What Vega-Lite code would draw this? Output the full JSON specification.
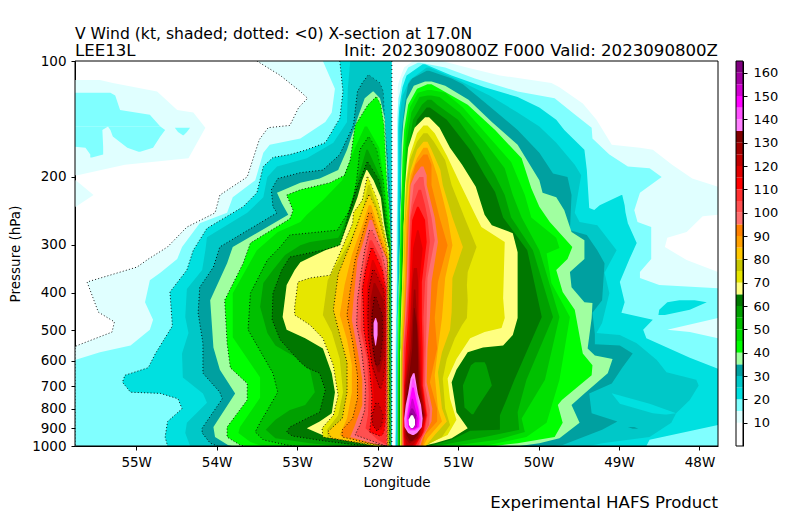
{"$schema":"https://vega.github.io/schema/vega-lite/v6.json","background":"white","padding":{"left":8,"top":27,"right":5,"bottom":5},"spacing":16,"config":{"font":"DejaVu Sans","view":{"stroke":null},"axisQuantitative":{"labelOverlap":false},"axis":{"grid":false,"labelFontSize":13.5,"titleFontSize":13.5,"titleFontWeight":"normal","labelColor":"black","titleColor":"black","tickColor":"black","domainColor":"black","tickSize":4,"labelOverlap":false}},
"datasets":{
"bar":[{"a":0,"b":10,"v":0},{"a":10,"b":15,"v":10},{"a":15,"b":20,"v":15},{"a":20,"b":25,"v":20},{"a":25,"b":30,"v":25},{"a":30,"b":35,"v":30},{"a":35,"b":40,"v":35},{"a":40,"b":45,"v":40},{"a":45,"b":50,"v":45},{"a":50,"b":55,"v":50},{"a":55,"b":60,"v":55},{"a":60,"b":65,"v":60},{"a":65,"b":70,"v":65},{"a":70,"b":75,"v":70},{"a":75,"b":80,"v":75},{"a":80,"b":85,"v":80},{"a":85,"b":90,"v":85},{"a":90,"b":95,"v":90},{"a":95,"b":100,"v":95},{"a":100,"b":105,"v":100},{"a":105,"b":110,"v":105},{"a":110,"b":115,"v":110},{"a":115,"b":120,"v":115},{"a":120,"b":125,"v":120},{"a":125,"b":130,"v":125},{"a":130,"b":135,"v":130},{"a":135,"b":140,"v":135},{"a":140,"b":145,"v":140},{"a":145,"b":150,"v":145},{"a":150,"b":155,"v":150},{"a":155,"b":160,"v":155},{"a":160,"b":165,"v":160}],
"bands":[
{"k":"L10","v":10,"p":100,"a":-53.5,"b":-51.82},{"k":"L10","v":10,"p":109,"a":-53.21,"b":-51.82},{"k":"L10","v":10,"p":120,"a":-52.96,"b":-51.82},{"k":"L10","v":10,"p":125,"a":-52.87,"b":-51.82},{"k":"L10","v":10,"p":132,"a":-52.98,"b":-51.82},{"k":"L10","v":10,"p":147,"a":-53.09,"b":-51.82},{"k":"L10","v":10,"p":149,"a":-53.36,"b":-51.82},{"k":"L10","v":10,"p":160,"a":-53.47,"b":-51.82},{"k":"L10","v":10,"p":200,"a":-53.62,"b":-51.82},{"k":"L10","v":10,"p":223,"a":-53.96,"b":-51.82},{"k":"L10","v":10,"p":248,"a":-54.02,"b":-51.82},{"k":"L10","v":10,"p":270,"a":-54.37,"b":-51.82},{"k":"L10","v":10,"p":304,"a":-54.61,"b":-51.82},{"k":"L10","v":10,"p":327,"a":-54.85,"b":-51.82},{"k":"L10","v":10,"p":343,"a":-54.99,"b":-51.82},{"k":"L10","v":10,"p":375,"a":-55.61,"b":-51.82},{"k":"L10","v":10,"p":449,"a":-55.47,"b":-51.82},{"k":"L10","v":10,"p":476,"a":-55.27,"b":-51.82},{"k":"L10","v":10,"p":506,"a":-55.3,"b":-51.82},{"k":"L10","v":10,"p":548,"a":-55.73,"b":-51.82},{"k":"L10","v":10,"p":552,"a":-55.76,"b":-51.82},{"k":"L10","v":10,"p":1000,"a":-55.76,"b":-51.82},
{"k":"P10a","v":10,"p":112,"a":-55.76,"b":-55.45},{"k":"P10a","v":10,"p":114,"a":-55.76,"b":-55.29},{"k":"P10a","v":10,"p":120,"a":-55.76,"b":-54.74},{"k":"P10a","v":10,"p":134,"a":-55.76,"b":-54.49},{"k":"P10a","v":10,"p":136,"a":-55.76,"b":-54.29},{"k":"P10a","v":10,"p":149,"a":-55.76,"b":-54.14},{"k":"P10a","v":10,"p":179,"a":-55.76,"b":-54.35},{"k":"P10a","v":10,"p":186,"a":-55.76,"b":-55.14},{"k":"P10a","v":10,"p":198,"a":-55.76,"b":-55.73},
{"k":"P10b","v":10,"p":204,"a":-55.76,"b":-55.75},{"k":"P10b","v":10,"p":223,"a":-55.76,"b":-55.53},{"k":"P10b","v":10,"p":239,"a":-55.76,"b":-55.75},
{"k":"R10","v":10,"p":100,"a":-51.56,"b":-51.2},{"k":"R10","v":10,"p":104,"a":-51.67,"b":-50.89},{"k":"R10","v":10,"p":109,"a":-51.71,"b":-50.48},{"k":"R10","v":10,"p":114,"a":-51.74,"b":-49.84},{"k":"R10","v":10,"p":117,"a":-51.75,"b":-49.74},{"k":"R10","v":10,"p":129,"a":-51.75,"b":-49.45},{"k":"R10","v":10,"p":142,"a":-51.76,"b":-49.28},{"k":"R10","v":10,"p":165,"a":-51.76,"b":-49.09},{"k":"R10","v":10,"p":168,"a":-51.76,"b":-48.74},{"k":"R10","v":10,"p":170,"a":-51.76,"b":-48.58},{"k":"R10","v":10,"p":186,"a":-51.76,"b":-48.34},{"k":"R10","v":10,"p":202,"a":-51.76,"b":-48.09},{"k":"R10","v":10,"p":212,"a":-51.76,"b":-47.77},{"k":"R10","v":10,"p":251,"a":-51.765,"b":-47.77},{"k":"R10","v":10,"p":253,"a":-51.765,"b":-47.96},{"k":"R10","v":10,"p":278,"a":-51.77,"b":-48.16},{"k":"R10","v":10,"p":288,"a":-51.77,"b":-48.4},{"k":"R10","v":10,"p":304,"a":-51.77,"b":-48.43},{"k":"R10","v":10,"p":329,"a":-51.77,"b":-48.16},{"k":"R10","v":10,"p":353,"a":-51.78,"b":-47.77},{"k":"R10","v":10,"p":558,"a":-51.79,"b":-47.77},{"k":"R10","v":10,"p":1000,"a":-51.79,"b":-47.77},
{"k":"L15","v":15,"p":100,"a":-52.68,"b":-51.822},{"k":"L15","v":15,"p":118,"a":-52.53,"b":-51.822},{"k":"L15","v":15,"p":136,"a":-52.57,"b":-51.822},{"k":"L15","v":15,"p":144,"a":-52.65,"b":-51.822},{"k":"L15","v":15,"p":159,"a":-52.96,"b":-51.822},{"k":"L15","v":15,"p":165,"a":-53.34,"b":-51.822},{"k":"L15","v":15,"p":173,"a":-53.42,"b":-51.822},{"k":"L15","v":15,"p":204,"a":-53.52,"b":-51.822},{"k":"L15","v":15,"p":226,"a":-53.8,"b":-51.822},{"k":"L15","v":15,"p":248,"a":-53.87,"b":-51.822},{"k":"L15","v":15,"p":264,"a":-54.21,"b":-51.822},{"k":"L15","v":15,"p":304,"a":-54.43,"b":-51.822},{"k":"L15","v":15,"p":327,"a":-54.49,"b":-51.822},{"k":"L15","v":15,"p":355,"a":-54.7,"b":-51.822},{"k":"L15","v":15,"p":371,"a":-54.83,"b":-51.822},{"k":"L15","v":15,"p":423,"a":-54.89,"b":-51.822},{"k":"L15","v":15,"p":470,"a":-54.79,"b":-51.822},{"k":"L15","v":15,"p":499,"a":-54.83,"b":-51.822},{"k":"L15","v":15,"p":548,"a":-55.07,"b":-51.822},{"k":"L15","v":15,"p":571,"a":-55.45,"b":-51.822},{"k":"L15","v":15,"p":598,"a":-55.76,"b":-51.822},{"k":"L15","v":15,"p":1000,"a":-55.76,"b":-51.822},
{"k":"P15a","v":15,"p":121,"a":-55.76,"b":-55.32},{"k":"P15a","v":15,"p":123,"a":-55.76,"b":-55.26},{"k":"P15a","v":15,"p":134,"a":-55.76,"b":-55.2},{"k":"P15a","v":15,"p":138,"a":-55.76,"b":-54.83},{"k":"P15a","v":15,"p":148,"a":-55.76,"b":-54.7},
{"k":"P15b","v":15,"p":148,"a":-55.76,"b":-55.35},{"k":"P15b","v":15,"p":151,"a":-55.76,"b":-55.42},{"k":"P15b","v":15,"p":167,"a":-55.76,"b":-55.41},{"k":"P15b","v":15,"p":168,"a":-55.63,"b":-55.41},{"k":"P15b","v":15,"p":175,"a":-55.57,"b":-55.41},{"k":"P15b","v":15,"p":178,"a":-55.57,"b":-55.55},
{"k":"P15c","v":15,"p":148,"a":-55.35,"b":-54.7},{"k":"P15c","v":15,"p":151,"a":-55.32,"b":-54.64},{"k":"P15c","v":15,"p":157,"a":-55.29,"b":-54.7},{"k":"P15c","v":15,"p":168,"a":-55.11,"b":-54.79},{"k":"P15c","v":15,"p":172,"a":-54.97,"b":-54.95},
{"k":"P15d","v":15,"p":149,"a":-54.52,"b":-54.33},{"k":"P15d","v":15,"p":153,"a":-54.48,"b":-54.37},{"k":"P15d","v":15,"p":156,"a":-54.42,"b":-54.41},
{"k":"R15","v":15,"p":101,"a":-51.5,"b":-51.47},{"k":"R15","v":15,"p":104,"a":-51.62,"b":-51.16},{"k":"R15","v":15,"p":111,"a":-51.69,"b":-50.79},{"k":"R15","v":15,"p":120,"a":-51.72,"b":-50.26},{"k":"R15","v":15,"p":125,"a":-51.74,"b":-49.8},{"k":"R15","v":15,"p":136,"a":-51.75,"b":-49.58},{"k":"R15","v":15,"p":149,"a":-51.755,"b":-49.34},{"k":"R15","v":15,"p":159,"a":-51.755,"b":-49.33},{"k":"R15","v":15,"p":175,"a":-51.755,"b":-49.12},{"k":"R15","v":15,"p":188,"a":-51.755,"b":-48.89},{"k":"R15","v":15,"p":190,"a":-51.755,"b":-48.62},{"k":"R15","v":15,"p":200,"a":-51.755,"b":-48.47},{"k":"R15","v":15,"p":220,"a":-51.755,"b":-48.74},{"k":"R15","v":15,"p":244,"a":-51.755,"b":-48.81},{"k":"R15","v":15,"p":262,"a":-51.76,"b":-48.77},{"k":"R15","v":15,"p":270,"a":-51.76,"b":-48.6},{"k":"R15","v":15,"p":327,"a":-51.76,"b":-48.6},{"k":"R15","v":15,"p":353,"a":-51.76,"b":-48.74},{"k":"R15","v":15,"p":366,"a":-51.76,"b":-48.74},{"k":"R15","v":15,"p":382,"a":-51.765,"b":-48.5},{"k":"R15","v":15,"p":389,"a":-51.765,"b":-47.77},{"k":"R15","v":15,"p":465,"a":-51.77,"b":-47.77},{"k":"R15","v":15,"p":499,"a":-51.77,"b":-48.4},{"k":"R15","v":15,"p":506,"a":-51.77,"b":-48.12},{"k":"R15","v":15,"p":525,"a":-51.775,"b":-47.77},{"k":"R15","v":15,"p":1000,"a":-51.78,"b":-47.77},
{"k":"L20","v":20,"p":100,"a":-52.47,"b":-51.826},{"k":"L20","v":20,"p":120,"a":-52.43,"b":-51.826},{"k":"L20","v":20,"p":141,"a":-52.47,"b":-51.826},{"k":"L20","v":20,"p":163,"a":-52.65,"b":-51.826},{"k":"L20","v":20,"p":170,"a":-52.88,"b":-51.826},{"k":"L20","v":20,"p":175,"a":-53.09,"b":-51.826},{"k":"L20","v":20,"p":178,"a":-53.3,"b":-51.826},{"k":"L20","v":20,"p":188,"a":-53.42,"b":-51.826},{"k":"L20","v":20,"p":220,"a":-53.5,"b":-51.826},{"k":"L20","v":20,"p":239,"a":-53.67,"b":-51.826},{"k":"L20","v":20,"p":272,"a":-54.12,"b":-51.826},{"k":"L20","v":20,"p":310,"a":-54.29,"b":-51.826},{"k":"L20","v":20,"p":349,"a":-54.37,"b":-51.826},{"k":"L20","v":20,"p":398,"a":-54.58,"b":-51.826},{"k":"L20","v":20,"p":488,"a":-54.55,"b":-51.826},{"k":"L20","v":20,"p":575,"a":-54.76,"b":-51.826},{"k":"L20","v":20,"p":626,"a":-54.85,"b":-51.826},{"k":"L20","v":20,"p":655,"a":-55.14,"b":-51.826},{"k":"L20","v":20,"p":683,"a":-55.17,"b":-51.826},{"k":"L20","v":20,"p":725,"a":-55.07,"b":-51.826},{"k":"L20","v":20,"p":730,"a":-54.7,"b":-51.826},{"k":"L20","v":20,"p":754,"a":-54.48,"b":-51.826},{"k":"L20","v":20,"p":800,"a":-54.43,"b":-51.826},{"k":"L20","v":20,"p":864,"a":-54.61,"b":-51.826},{"k":"L20","v":20,"p":948,"a":-54.64,"b":-51.826},{"k":"L20","v":20,"p":1000,"a":-54.61,"b":-51.826},
{"k":"R20","v":20,"p":102,"a":-51.44,"b":-51.41},{"k":"R20","v":20,"p":109,"a":-51.64,"b":-51.08},{"k":"R20","v":20,"p":117,"a":-51.69,"b":-50.67},{"k":"R20","v":20,"p":124,"a":-51.71,"b":-50.26},{"k":"R20","v":20,"p":132,"a":-51.73,"b":-49.99},{"k":"R20","v":20,"p":142,"a":-51.74,"b":-49.78},{"k":"R20","v":20,"p":151,"a":-51.745,"b":-49.68},{"k":"R20","v":20,"p":170,"a":-51.745,"b":-49.43},{"k":"R20","v":20,"p":192,"a":-51.745,"b":-49.4},{"k":"R20","v":20,"p":241,"a":-51.75,"b":-49.37},{"k":"R20","v":20,"p":264,"a":-51.75,"b":-48.89},{"k":"R20","v":20,"p":297,"a":-51.75,"b":-48.78},{"k":"R20","v":20,"p":327,"a":-51.755,"b":-48.87},{"k":"R20","v":20,"p":375,"a":-51.755,"b":-48.99},{"k":"R20","v":20,"p":423,"a":-51.76,"b":-48.93},{"k":"R20","v":20,"p":451,"a":-51.76,"b":-48.97},{"k":"R20","v":20,"p":470,"a":-51.765,"b":-48.58},{"k":"R20","v":20,"p":499,"a":-51.765,"b":-48.7},{"k":"R20","v":20,"p":525,"a":-51.765,"b":-48.66},{"k":"R20","v":20,"p":590,"a":-51.77,"b":-48.12},{"k":"R20","v":20,"p":630,"a":-51.77,"b":-47.77},{"k":"R20","v":20,"p":882,"a":-51.77,"b":-47.77},{"k":"R20","v":20,"p":964,"a":-51.775,"b":-48.62},{"k":"R20","v":20,"p":1000,"a":-51.775,"b":-48.66},
{"k":"R20b","v":20,"p":223,"a":-48.97,"b":-48.96},{"k":"R20b","v":20,"p":237,"a":-49.24,"b":-48.93},{"k":"R20b","v":20,"p":247,"a":-49.34,"b":-48.92},{"k":"R20b","v":20,"p":264,"a":-49.37,"b":-48.89},
{"k":"R20c","v":20,"p":418,"a":-48.25,"b":-48.06},{"k":"R20c","v":20,"p":423,"a":-48.4,"b":-47.91},{"k":"R20c","v":20,"p":443,"a":-48.5,"b":-48.12},{"k":"R20c","v":20,"p":457,"a":-48.51,"b":-48.43},
{"k":"L25","v":25,"p":100,"a":-52.34,"b":-51.83},{"k":"L25","v":25,"p":118,"a":-52.37,"b":-51.83},{"k":"L25","v":25,"p":144,"a":-52.38,"b":-51.83},{"k":"L25","v":25,"p":163,"a":-52.55,"b":-51.83},{"k":"L25","v":25,"p":179,"a":-52.88,"b":-51.83},{"k":"L25","v":25,"p":184,"a":-53.09,"b":-51.83},{"k":"L25","v":25,"p":188,"a":-53.25,"b":-51.83},{"k":"L25","v":25,"p":200,"a":-53.37,"b":-51.83},{"k":"L25","v":25,"p":226,"a":-53.42,"b":-51.83},{"k":"L25","v":25,"p":248,"a":-53.62,"b":-51.83},{"k":"L25","v":25,"p":287,"a":-54.12,"b":-51.83},{"k":"L25","v":25,"p":310,"a":-54.14,"b":-51.83},{"k":"L25","v":25,"p":349,"a":-54.18,"b":-51.83},{"k":"L25","v":25,"p":391,"a":-54.37,"b":-51.83},{"k":"L25","v":25,"p":462,"a":-54.39,"b":-51.83},{"k":"L25","v":25,"p":509,"a":-54.35,"b":-51.83},{"k":"L25","v":25,"p":575,"a":-54.43,"b":-51.83},{"k":"L25","v":25,"p":664,"a":-54.42,"b":-51.83},{"k":"L25","v":25,"p":730,"a":-54.17,"b":-51.83},{"k":"L25","v":25,"p":772,"a":-54.12,"b":-51.83},{"k":"L25","v":25,"p":870,"a":-54.37,"b":-51.83},{"k":"L25","v":25,"p":925,"a":-54.39,"b":-51.83},{"k":"L25","v":25,"p":1000,"a":-54.33,"b":-51.83},
{"k":"R25","v":25,"p":104,"a":-51.39,"b":-51.36},{"k":"R25","v":25,"p":112,"a":-51.6,"b":-51.0},{"k":"R25","v":25,"p":123,"a":-51.69,"b":-50.61},{"k":"R25","v":25,"p":136,"a":-51.72,"b":-50.26},{"k":"R25","v":25,"p":148,"a":-51.73,"b":-49.99},{"k":"R25","v":25,"p":163,"a":-51.73,"b":-49.78},{"k":"R25","v":25,"p":186,"a":-51.73,"b":-49.55},{"k":"R25","v":25,"p":198,"a":-51.73,"b":-49.47},{"k":"R25","v":25,"p":248,"a":-51.74,"b":-49.55},{"k":"R25","v":25,"p":262,"a":-51.74,"b":-49.49},{"k":"R25","v":25,"p":267,"a":-51.74,"b":-49.27},{"k":"R25","v":25,"p":310,"a":-51.745,"b":-49.03},{"k":"R25","v":25,"p":355,"a":-51.745,"b":-49.18},{"k":"R25","v":25,"p":401,"a":-51.75,"b":-49.12},{"k":"R25","v":25,"p":479,"a":-51.75,"b":-49.21},{"k":"R25","v":25,"p":509,"a":-51.755,"b":-49.28},{"k":"R25","v":25,"p":515,"a":-51.755,"b":-48.99},{"k":"R25","v":25,"p":541,"a":-51.755,"b":-48.78},{"k":"R25","v":25,"p":598,"a":-51.76,"b":-48.53},{"k":"R25","v":25,"p":643,"a":-51.76,"b":-48.41},{"k":"R25","v":25,"p":673,"a":-51.76,"b":-48.04},{"k":"R25","v":25,"p":696,"a":-51.76,"b":-48.01},{"k":"R25","v":25,"p":759,"a":-51.76,"b":-48.12},{"k":"R25","v":25,"p":822,"a":-51.76,"b":-48.29},{"k":"R25","v":25,"p":870,"a":-51.76,"b":-48.35},{"k":"R25","v":25,"p":948,"a":-51.76,"b":-48.62},{"k":"R25","v":25,"p":983,"a":-51.76,"b":-49.21},{"k":"R25","v":25,"p":1000,"a":-51.76,"b":-49.37},
{"k":"H20","v":20,"p":730,"a":-49.09,"b":-49.08},{"k":"H20","v":20,"p":777,"a":-48.99,"b":-48.62},{"k":"H20","v":20,"p":822,"a":-48.58,"b":-48.29},{"k":"H20","v":20,"p":828,"a":-48.43,"b":-48.41},
{"k":"L30","v":30,"p":109,"a":-52.12,"b":-52.1},{"k":"L30","v":30,"p":114,"a":-52.19,"b":-51.97},{"k":"L30","v":30,"p":120,"a":-52.25,"b":-51.93},{"k":"L30","v":30,"p":147,"a":-52.3,"b":-51.91},{"k":"L30","v":30,"p":175,"a":-52.47,"b":-51.88},{"k":"L30","v":30,"p":192,"a":-52.68,"b":-51.87},{"k":"L30","v":30,"p":195,"a":-52.96,"b":-51.87},{"k":"L30","v":30,"p":202,"a":-53.24,"b":-51.86},{"k":"L30","v":30,"p":216,"a":-53.32,"b":-51.85},{"k":"L30","v":30,"p":239,"a":-53.3,"b":-51.84},{"k":"L30","v":30,"p":248,"a":-53.25,"b":-51.832},{"k":"L30","v":30,"p":304,"a":-53.96,"b":-51.832},{"k":"L30","v":30,"p":343,"a":-54.04,"b":-51.832},{"k":"L30","v":30,"p":387,"a":-54.21,"b":-51.832},{"k":"L30","v":30,"p":451,"a":-54.23,"b":-51.832},{"k":"L30","v":30,"p":541,"a":-54.17,"b":-51.832},{"k":"L30","v":30,"p":647,"a":-54.17,"b":-51.832},{"k":"L30","v":30,"p":725,"a":-53.96,"b":-51.832},{"k":"L30","v":30,"p":754,"a":-53.93,"b":-51.832},{"k":"L30","v":30,"p":899,"a":-54.18,"b":-51.832},{"k":"L30","v":30,"p":925,"a":-54.18,"b":-51.832},{"k":"L30","v":30,"p":983,"a":-54.08,"b":-51.832},{"k":"L30","v":30,"p":1000,"a":-53.99,"b":-51.832},
{"k":"R30","v":30,"p":106,"a":-51.39,"b":-51.36},{"k":"R30","v":30,"p":111,"a":-51.57,"b":-51.08},{"k":"R30","v":30,"p":115,"a":-51.62,"b":-50.94},{"k":"R30","v":30,"p":128,"a":-51.66,"b":-50.67},{"k":"R30","v":30,"p":151,"a":-51.7,"b":-50.26},{"k":"R30","v":30,"p":173,"a":-51.71,"b":-49.99},{"k":"R30","v":30,"p":196,"a":-51.71,"b":-49.82},{"k":"R30","v":30,"p":200,"a":-51.71,"b":-49.64},{"k":"R30","v":30,"p":223,"a":-51.72,"b":-49.59},{"k":"R30","v":30,"p":275,"a":-51.73,"b":-49.61},{"k":"R30","v":30,"p":283,"a":-51.73,"b":-49.4},{"k":"R30","v":30,"p":310,"a":-51.73,"b":-49.27},{"k":"R30","v":30,"p":335,"a":-51.735,"b":-49.18},{"k":"R30","v":30,"p":418,"a":-51.74,"b":-49.21},{"k":"R30","v":30,"p":451,"a":-51.74,"b":-49.33},{"k":"R30","v":30,"p":512,"a":-51.75,"b":-49.3},{"k":"R30","v":30,"p":544,"a":-51.75,"b":-49.3},{"k":"R30","v":30,"p":548,"a":-51.75,"b":-48.99},{"k":"R30","v":30,"p":575,"a":-51.75,"b":-48.83},{"k":"R30","v":30,"p":626,"a":-51.755,"b":-48.96},{"k":"R30","v":30,"p":688,"a":-51.755,"b":-49.09},{"k":"R30","v":30,"p":730,"a":-51.755,"b":-49.37},{"k":"R30","v":30,"p":822,"a":-51.755,"b":-49.34},{"k":"R30","v":30,"p":864,"a":-51.76,"b":-49.02},{"k":"R30","v":30,"p":908,"a":-51.76,"b":-49.21},{"k":"R30","v":30,"p":994,"a":-51.76,"b":-49.7},{"k":"R30","v":30,"p":1000,"a":-51.76,"b":-49.8},
{"k":"R30c","v":30,"p":893,"a":-48.89,"b":-48.81},{"k":"R30c","v":30,"p":902,"a":-48.83,"b":-48.76},
{"k":"L35","v":35,"p":120,"a":-52.06,"b":-52.05},{"k":"L35","v":35,"p":125,"a":-52.16,"b":-51.97},{"k":"L35","v":35,"p":141,"a":-52.25,"b":-51.91},{"k":"L35","v":35,"p":170,"a":-52.38,"b":-51.895},{"k":"L35","v":35,"p":192,"a":-52.49,"b":-51.88},{"k":"L35","v":35,"p":202,"a":-52.72,"b":-51.88},{"k":"L35","v":35,"p":207,"a":-52.96,"b":-51.875},{"k":"L35","v":35,"p":220,"a":-53.25,"b":-51.87},{"k":"L35","v":35,"p":234,"a":-53.19,"b":-51.86},{"k":"L35","v":35,"p":251,"a":-53.11,"b":-51.85},{"k":"L35","v":35,"p":304,"a":-53.8,"b":-51.836},{"k":"L35","v":35,"p":335,"a":-53.87,"b":-51.836},{"k":"L35","v":35,"p":418,"a":-54.08,"b":-51.836},{"k":"L35","v":35,"p":555,"a":-54.04,"b":-51.836},{"k":"L35","v":35,"p":634,"a":-53.96,"b":-51.836},{"k":"L35","v":35,"p":730,"a":-53.77,"b":-51.836},{"k":"L35","v":35,"p":893,"a":-54.04,"b":-51.836},{"k":"L35","v":35,"p":948,"a":-54.02,"b":-51.836},{"k":"L35","v":35,"p":994,"a":-53.86,"b":-51.836},{"k":"L35","v":35,"p":1000,"a":-53.81,"b":-51.836},
{"k":"R35","v":35,"p":113,"a":-51.41,"b":-51.33},{"k":"R35","v":35,"p":116,"a":-51.55,"b":-51.16},{"k":"R35","v":35,"p":126,"a":-51.64,"b":-50.87},{"k":"R35","v":35,"p":144,"a":-51.68,"b":-50.58},{"k":"R35","v":35,"p":165,"a":-51.7,"b":-50.26},{"k":"R35","v":35,"p":204,"a":-51.71,"b":-49.99},{"k":"R35","v":35,"p":220,"a":-51.71,"b":-49.95},{"k":"R35","v":35,"p":226,"a":-51.71,"b":-49.78},{"k":"R35","v":35,"p":244,"a":-51.72,"b":-49.68},{"k":"R35","v":35,"p":278,"a":-51.72,"b":-49.59},{"k":"R35","v":35,"p":292,"a":-51.72,"b":-49.43},{"k":"R35","v":35,"p":327,"a":-51.73,"b":-49.43},{"k":"R35","v":35,"p":353,"a":-51.73,"b":-49.61},{"k":"R35","v":35,"p":387,"a":-51.74,"b":-49.59},{"k":"R35","v":35,"p":423,"a":-51.74,"b":-49.43},{"k":"R35","v":35,"p":425,"a":-51.74,"b":-49.33},{"k":"R35","v":35,"p":465,"a":-51.75,"b":-49.34},{"k":"R35","v":35,"p":558,"a":-51.75,"b":-49.39},{"k":"R35","v":35,"p":582,"a":-51.75,"b":-49.3},{"k":"R35","v":35,"p":594,"a":-51.75,"b":-49.08},{"k":"R35","v":35,"p":647,"a":-51.75,"b":-49.14},{"k":"R35","v":35,"p":730,"a":-51.75,"b":-49.43},{"k":"R35","v":35,"p":783,"a":-51.75,"b":-49.59},{"k":"R35","v":35,"p":870,"a":-51.75,"b":-49.49},{"k":"R35","v":35,"p":954,"a":-51.75,"b":-49.74},{"k":"R35","v":35,"p":983,"a":-51.75,"b":-49.99},{"k":"R35","v":35,"p":1000,"a":-51.75,"b":-50.24},
{"k":"L40","v":40,"p":124,"a":-52.02,"b":-52.01},{"k":"L40","v":40,"p":130,"a":-52.12,"b":-51.96},{"k":"L40","v":40,"p":147,"a":-52.28,"b":-51.92},{"k":"L40","v":40,"p":181,"a":-52.34,"b":-51.9},{"k":"L40","v":40,"p":198,"a":-52.41,"b":-51.89},{"k":"L40","v":40,"p":207,"a":-52.59,"b":-51.885},{"k":"L40","v":40,"p":216,"a":-52.96,"b":-51.88},{"k":"L40","v":40,"p":223,"a":-53.13,"b":-51.87},{"k":"L40","v":40,"p":244,"a":-53.05,"b":-51.855},{"k":"L40","v":40,"p":257,"a":-53.09,"b":-51.85},{"k":"L40","v":40,"p":297,"a":-53.58,"b":-51.839},{"k":"L40","v":40,"p":335,"a":-53.67,"b":-51.839},{"k":"L40","v":40,"p":418,"a":-53.9,"b":-51.839},{"k":"L40","v":40,"p":541,"a":-53.87,"b":-51.839},{"k":"L40","v":40,"p":626,"a":-53.83,"b":-51.839},{"k":"L40","v":40,"p":688,"a":-53.62,"b":-51.839},{"k":"L40","v":40,"p":759,"a":-53.62,"b":-51.839},{"k":"L40","v":40,"p":893,"a":-53.87,"b":-51.839},{"k":"L40","v":40,"p":948,"a":-53.87,"b":-51.839},{"k":"L40","v":40,"p":994,"a":-53.71,"b":-51.839},{"k":"L40","v":40,"p":1000,"a":-53.65,"b":-51.839},
{"k":"R40","v":40,"p":115,"a":-51.38,"b":-51.33},{"k":"R40","v":40,"p":118,"a":-51.51,"b":-51.23},{"k":"R40","v":40,"p":130,"a":-51.62,"b":-50.88},{"k":"R40","v":40,"p":151,"a":-51.67,"b":-50.54},{"k":"R40","v":40,"p":179,"a":-51.69,"b":-50.21},{"k":"R40","v":40,"p":214,"a":-51.7,"b":-50.09},{"k":"R40","v":40,"p":239,"a":-51.71,"b":-49.99},{"k":"R40","v":40,"p":262,"a":-51.715,"b":-49.86},{"k":"R40","v":40,"p":304,"a":-51.72,"b":-49.58},{"k":"R40","v":40,"p":327,"a":-51.725,"b":-49.64},{"k":"R40","v":40,"p":349,"a":-51.725,"b":-49.78},{"k":"R40","v":40,"p":398,"a":-51.73,"b":-49.7},{"k":"R40","v":40,"p":443,"a":-51.74,"b":-49.55},{"k":"R40","v":40,"p":575,"a":-51.745,"b":-49.45},{"k":"R40","v":40,"p":617,"a":-51.745,"b":-49.33},{"k":"R40","v":40,"p":655,"a":-51.745,"b":-49.34},{"k":"R40","v":40,"p":759,"a":-51.745,"b":-49.71},{"k":"R40","v":40,"p":783,"a":-51.745,"b":-49.76},{"k":"R40","v":40,"p":870,"a":-51.745,"b":-49.7},{"k":"R40","v":40,"p":948,"a":-51.745,"b":-49.8},{"k":"R40","v":40,"p":983,"a":-51.745,"b":-50.26},{"k":"R40","v":40,"p":1000,"a":-51.745,"b":-50.54},
{"k":"L45","v":45,"p":148,"a":-52.16,"b":-52.13},{"k":"L45","v":45,"p":168,"a":-52.28,"b":-51.98},{"k":"L45","v":45,"p":204,"a":-52.44,"b":-51.92},{"k":"L45","v":45,"p":230,"a":-52.68,"b":-51.89},{"k":"L45","v":45,"p":251,"a":-52.88,"b":-51.87},{"k":"L45","v":45,"p":262,"a":-52.96,"b":-51.86},{"k":"L45","v":45,"p":278,"a":-53.24,"b":-51.85},{"k":"L45","v":45,"p":310,"a":-53.5,"b":-51.842},{"k":"L45","v":45,"p":401,"a":-53.8,"b":-51.842},{"k":"L45","v":45,"p":522,"a":-53.8,"b":-51.842},{"k":"L45","v":45,"p":664,"a":-53.46,"b":-51.842},{"k":"L45","v":45,"p":749,"a":-53.46,"b":-51.842},{"k":"L45","v":45,"p":893,"a":-53.71,"b":-51.842},{"k":"L45","v":45,"p":925,"a":-53.73,"b":-51.842},{"k":"L45","v":45,"p":977,"a":-53.58,"b":-51.842},{"k":"L45","v":45,"p":1000,"a":-53.44,"b":-51.842},
{"k":"R45","v":45,"p":119,"a":-51.38,"b":-51.33},{"k":"R45","v":45,"p":121,"a":-51.5,"b":-51.16},{"k":"R45","v":45,"p":132,"a":-51.6,"b":-50.94},{"k":"R45","v":45,"p":153,"a":-51.65,"b":-50.67},{"k":"R45","v":45,"p":183,"a":-51.67,"b":-50.34},{"k":"R45","v":45,"p":223,"a":-51.69,"b":-50.17},{"k":"R45","v":45,"p":255,"a":-51.7,"b":-50.09},{"k":"R45","v":45,"p":288,"a":-51.705,"b":-49.78},{"k":"R45","v":45,"p":306,"a":-51.71,"b":-49.74},{"k":"R45","v":45,"p":316,"a":-51.71,"b":-49.9},{"k":"R45","v":45,"p":377,"a":-51.715,"b":-49.84},{"k":"R45","v":45,"p":462,"a":-51.72,"b":-49.61},{"k":"R45","v":45,"p":673,"a":-51.74,"b":-49.74},{"k":"R45","v":45,"p":870,"a":-51.74,"b":-49.9},{"k":"R45","v":45,"p":948,"a":-51.74,"b":-50.15},{"k":"R45","v":45,"p":1000,"a":-51.74,"b":-50.67},
{"k":"L50","v":50,"p":158,"a":-52.12,"b":-52.1},{"k":"L50","v":50,"p":170,"a":-52.22,"b":-52.01},{"k":"L50","v":50,"p":204,"a":-52.26,"b":-51.93},{"k":"L50","v":50,"p":239,"a":-52.32,"b":-51.9},{"k":"L50","v":50,"p":275,"a":-52.5,"b":-51.87},{"k":"L50","v":50,"p":278,"a":-52.72,"b":-51.865},{"k":"L50","v":50,"p":283,"a":-53.09,"b":-51.86},{"k":"L50","v":50,"p":304,"a":-53.21,"b":-51.845},{"k":"L50","v":50,"p":329,"a":-53.37,"b":-51.845},{"k":"L50","v":50,"p":401,"a":-53.58,"b":-51.845},{"k":"L50","v":50,"p":499,"a":-53.61,"b":-51.845},{"k":"L50","v":50,"p":647,"a":-53.3,"b":-51.845},{"k":"L50","v":50,"p":725,"a":-53.24,"b":-51.845},{"k":"L50","v":50,"p":870,"a":-53.46,"b":-51.845},{"k":"L50","v":50,"p":919,"a":-53.52,"b":-51.845},{"k":"L50","v":50,"p":964,"a":-53.42,"b":-51.845},{"k":"L50","v":50,"p":994,"a":-53.13,"b":-51.845},{"k":"L50","v":50,"p":1000,"a":-53.03,"b":-51.845},
{"k":"R50","v":50,"p":123,"a":-51.38,"b":-51.33},{"k":"R50","v":50,"p":124,"a":-51.48,"b":-51.23},{"k":"R50","v":50,"p":136,"a":-51.58,"b":-50.98},{"k":"R50","v":50,"p":162,"a":-51.64,"b":-50.67},{"k":"R50","v":50,"p":190,"a":-51.66,"b":-50.42},{"k":"R50","v":50,"p":223,"a":-51.67,"b":-50.32},{"k":"R50","v":50,"p":255,"a":-51.69,"b":-50.21},{"k":"R50","v":50,"p":310,"a":-51.7,"b":-49.99},{"k":"R50","v":50,"p":462,"a":-51.72,"b":-49.74},{"k":"R50","v":50,"p":673,"a":-51.735,"b":-49.92},{"k":"R50","v":50,"p":848,"a":-51.74,"b":-50.21},{"k":"R50","v":50,"p":919,"a":-51.74,"b":-50.17},{"k":"R50","v":50,"p":964,"a":-51.74,"b":-50.51},{"k":"R50","v":50,"p":1000,"a":-51.74,"b":-51.08},
{"k":"L55","v":55,"p":170,"a":-52.14,"b":-52.12},{"k":"L55","v":55,"p":204,"a":-52.25,"b":-51.95},{"k":"L55","v":55,"p":251,"a":-52.37,"b":-51.9},{"k":"L55","v":55,"p":283,"a":-52.47,"b":-51.87},{"k":"L55","v":55,"p":288,"a":-52.49,"b":-51.86},{"k":"L55","v":55,"p":295,"a":-52.84,"b":-51.855},{"k":"L55","v":55,"p":301,"a":-52.96,"b":-51.85},{"k":"L55","v":55,"p":319,"a":-53.15,"b":-51.849},{"k":"L55","v":55,"p":349,"a":-53.3,"b":-51.849},{"k":"L55","v":55,"p":377,"a":-53.42,"b":-51.849},{"k":"L55","v":55,"p":435,"a":-53.46,"b":-51.849},{"k":"L55","v":55,"p":509,"a":-53.37,"b":-51.849},{"k":"L55","v":55,"p":548,"a":-53.27,"b":-51.849},{"k":"L55","v":55,"p":598,"a":-52.96,"b":-51.849},{"k":"L55","v":55,"p":634,"a":-52.84,"b":-51.849},{"k":"L55","v":55,"p":725,"a":-52.78,"b":-51.849},{"k":"L55","v":55,"p":783,"a":-52.9,"b":-51.849},{"k":"L55","v":55,"p":806,"a":-53.09,"b":-51.849},{"k":"L55","v":55,"p":855,"a":-53.27,"b":-51.849},{"k":"L55","v":55,"p":908,"a":-53.39,"b":-51.849},{"k":"L55","v":55,"p":954,"a":-53.27,"b":-51.849},{"k":"L55","v":55,"p":983,"a":-52.84,"b":-51.849},{"k":"L55","v":55,"p":1000,"a":-52.47,"b":-51.849},
{"k":"R55","v":55,"p":126,"a":-51.38,"b":-51.33},{"k":"R55","v":55,"p":130,"a":-51.45,"b":-51.26},{"k":"R55","v":55,"p":142,"a":-51.56,"b":-51.0},{"k":"R55","v":55,"p":170,"a":-51.62,"b":-50.73},{"k":"R55","v":55,"p":198,"a":-51.65,"b":-50.54},{"k":"R55","v":55,"p":223,"a":-51.66,"b":-50.42},{"k":"R55","v":55,"p":255,"a":-51.67,"b":-50.34},{"k":"R55","v":55,"p":310,"a":-51.69,"b":-50.07},{"k":"R55","v":55,"p":462,"a":-51.71,"b":-49.82},{"k":"R55","v":55,"p":673,"a":-51.72,"b":-50.15},{"k":"R55","v":55,"p":817,"a":-51.73,"b":-50.26},{"k":"R55","v":55,"p":908,"a":-51.73,"b":-50.24},{"k":"R55","v":55,"p":948,"a":-51.73,"b":-50.67},{"k":"R55","v":55,"p":994,"a":-51.73,"b":-51.2},{"k":"R55","v":55,"p":1000,"a":-51.73,"b":-51.29},
{"k":"L60","v":60,"p":183,"a":-52.13,"b":-52.12},{"k":"L60","v":60,"p":204,"a":-52.22,"b":-51.98},{"k":"L60","v":60,"p":239,"a":-52.34,"b":-51.92},{"k":"L60","v":60,"p":275,"a":-52.41,"b":-51.89},{"k":"L60","v":60,"p":301,"a":-52.47,"b":-51.86},{"k":"L60","v":60,"p":310,"a":-52.68,"b":-51.851},{"k":"L60","v":60,"p":323,"a":-53.09,"b":-51.851},{"k":"L60","v":60,"p":349,"a":-53.19,"b":-51.851},{"k":"L60","v":60,"p":401,"a":-53.3,"b":-51.851},{"k":"L60","v":60,"p":470,"a":-53.31,"b":-51.851},{"k":"L60","v":60,"p":530,"a":-53.21,"b":-51.851},{"k":"L60","v":60,"p":606,"a":-52.96,"b":-51.851},{"k":"L60","v":60,"p":626,"a":-52.88,"b":-51.851},{"k":"L60","v":60,"p":647,"a":-52.72,"b":-51.851},{"k":"L60","v":60,"p":715,"a":-52.65,"b":-51.851},{"k":"L60","v":60,"p":817,"a":-52.72,"b":-51.851},{"k":"L60","v":60,"p":848,"a":-52.88,"b":-51.851},{"k":"L60","v":60,"p":893,"a":-53.09,"b":-51.851},{"k":"L60","v":60,"p":919,"a":-53.13,"b":-51.851},{"k":"L60","v":60,"p":942,"a":-53.06,"b":-51.851},{"k":"L60","v":60,"p":971,"a":-52.65,"b":-51.851},{"k":"L60","v":60,"p":989,"a":-52.34,"b":-51.851},{"k":"L60","v":60,"p":1000,"a":-52.1,"b":-51.851},
{"k":"R60","v":60,"p":132,"a":-51.39,"b":-51.35},{"k":"R60","v":60,"p":142,"a":-51.51,"b":-51.14},{"k":"R60","v":60,"p":170,"a":-51.6,"b":-50.85},{"k":"R60","v":60,"p":198,"a":-51.62,"b":-50.67},{"k":"R60","v":60,"p":219,"a":-51.64,"b":-50.54},{"k":"R60","v":60,"p":255,"a":-51.66,"b":-50.44},{"k":"R60","v":60,"p":310,"a":-51.67,"b":-50.14},{"k":"R60","v":60,"p":462,"a":-51.7,"b":-49.96},{"k":"R60","v":60,"p":673,"a":-51.72,"b":-50.3},{"k":"R60","v":60,"p":759,"a":-51.72,"b":-50.4},{"k":"R60","v":60,"p":832,"a":-51.72,"b":-50.48},{"k":"R60","v":60,"p":908,"a":-51.72,"b":-50.48},{"k":"R60","v":60,"p":913,"a":-51.72,"b":-50.85},{"k":"R60","v":60,"p":964,"a":-51.72,"b":-51.08},{"k":"R60","v":60,"p":1000,"a":-51.72,"b":-51.35},
{"k":"H55","v":55,"p":606,"a":-50.79,"b":-50.67},{"k":"H55","v":55,"p":617,"a":-50.84,"b":-50.65},{"k":"H55","v":55,"p":696,"a":-50.94,"b":-50.58},{"k":"H55","v":55,"p":794,"a":-50.92,"b":-50.76},{"k":"H55","v":55,"p":827,"a":-50.83,"b":-50.81},
{"k":"L65","v":65,"p":192,"a":-52.14,"b":-52.13},{"k":"L65","v":65,"p":204,"a":-52.19,"b":-52.05},{"k":"L65","v":65,"p":226,"a":-52.25,"b":-51.96},{"k":"L65","v":65,"p":264,"a":-52.37,"b":-51.92},{"k":"L65","v":65,"p":301,"a":-52.47,"b":-51.87},{"k":"L65","v":65,"p":310,"a":-52.65,"b":-51.855},{"k":"L65","v":65,"p":333,"a":-52.96,"b":-51.855},{"k":"L65","v":65,"p":349,"a":-53.03,"b":-51.855},{"k":"L65","v":65,"p":382,"a":-53.13,"b":-51.855},{"k":"L65","v":65,"p":462,"a":-53.18,"b":-51.855},{"k":"L65","v":65,"p":499,"a":-53.13,"b":-51.855},{"k":"L65","v":65,"p":525,"a":-52.9,"b":-51.855},{"k":"L65","v":65,"p":558,"a":-52.68,"b":-51.855},{"k":"L65","v":65,"p":647,"a":-52.57,"b":-51.855},{"k":"L65","v":65,"p":725,"a":-52.53,"b":-51.855},{"k":"L65","v":65,"p":822,"a":-52.57,"b":-51.855},{"k":"L65","v":65,"p":864,"a":-52.72,"b":-51.855},{"k":"L65","v":65,"p":899,"a":-52.88,"b":-51.855},{"k":"L65","v":65,"p":948,"a":-52.63,"b":-51.855},{"k":"L65","v":65,"p":964,"a":-52.47,"b":-51.855},{"k":"L65","v":65,"p":983,"a":-52.16,"b":-51.855},{"k":"L65","v":65,"p":1000,"a":-51.97,"b":-51.855},
{"k":"R65","v":65,"p":140,"a":-51.41,"b":-51.36},{"k":"R65","v":65,"p":149,"a":-51.54,"b":-51.23},{"k":"R65","v":65,"p":168,"a":-51.62,"b":-51.1},{"k":"R65","v":65,"p":186,"a":-51.64,"b":-50.95},{"k":"R65","v":65,"p":212,"a":-51.66,"b":-50.78},{"k":"R65","v":65,"p":251,"a":-51.67,"b":-50.67},{"k":"R65","v":65,"p":267,"a":-51.675,"b":-50.58},{"k":"R65","v":65,"p":280,"a":-51.675,"b":-50.32},{"k":"R65","v":65,"p":314,"a":-51.68,"b":-50.26},{"k":"R65","v":65,"p":465,"a":-51.71,"b":-50.26},{"k":"R65","v":65,"p":515,"a":-51.715,"b":-50.32},{"k":"R65","v":65,"p":548,"a":-51.715,"b":-50.44},{"k":"R65","v":65,"p":555,"a":-51.715,"b":-50.69},{"k":"R65","v":65,"p":571,"a":-51.72,"b":-50.88},{"k":"R65","v":65,"p":634,"a":-51.72,"b":-51.02},{"k":"R65","v":65,"p":683,"a":-51.72,"b":-51.08},{"k":"R65","v":65,"p":817,"a":-51.72,"b":-51.02},{"k":"R65","v":65,"p":899,"a":-51.72,"b":-50.88},{"k":"R65","v":65,"p":954,"a":-51.72,"b":-51.08},{"k":"R65","v":65,"p":983,"a":-51.72,"b":-51.29},{"k":"R65","v":65,"p":1000,"a":-51.72,"b":-51.45},
{"k":"L70","v":70,"p":200,"a":-52.13,"b":-52.12},{"k":"L70","v":70,"p":230,"a":-52.19,"b":-52.0},{"k":"L70","v":70,"p":248,"a":-52.3,"b":-51.96},{"k":"L70","v":70,"p":264,"a":-52.31,"b":-51.94},{"k":"L70","v":70,"p":316,"a":-52.47,"b":-51.858},{"k":"L70","v":70,"p":360,"a":-52.59,"b":-51.858},{"k":"L70","v":70,"p":366,"a":-52.84,"b":-51.858},{"k":"L70","v":70,"p":375,"a":-52.99,"b":-51.858},{"k":"L70","v":70,"p":435,"a":-53.03,"b":-51.858},{"k":"L70","v":70,"p":457,"a":-53.03,"b":-51.858},{"k":"L70","v":70,"p":485,"a":-52.84,"b":-51.858},{"k":"L70","v":70,"p":525,"a":-52.68,"b":-51.858},{"k":"L70","v":70,"p":617,"a":-52.55,"b":-51.858},{"k":"L70","v":70,"p":739,"a":-52.49,"b":-51.858},{"k":"L70","v":70,"p":832,"a":-52.55,"b":-51.858},{"k":"L70","v":70,"p":899,"a":-52.69,"b":-51.858},{"k":"L70","v":70,"p":948,"a":-52.68,"b":-51.858},{"k":"L70","v":70,"p":964,"a":-52.47,"b":-51.858},{"k":"L70","v":70,"p":994,"a":-52.1,"b":-51.858},{"k":"L70","v":70,"p":1000,"a":-52.03,"b":-51.858},
{"k":"R70","v":70,"p":147,"a":-51.43,"b":-51.38},{"k":"R70","v":70,"p":154,"a":-51.51,"b":-51.29},{"k":"R70","v":70,"p":176,"a":-51.6,"b":-51.14},{"k":"R70","v":70,"p":207,"a":-51.65,"b":-50.98},{"k":"R70","v":70,"p":255,"a":-51.67,"b":-50.77},{"k":"R70","v":70,"p":270,"a":-51.68,"b":-50.71},{"k":"R70","v":70,"p":295,"a":-51.68,"b":-50.42},{"k":"R70","v":70,"p":413,"a":-51.7,"b":-50.44},{"k":"R70","v":70,"p":465,"a":-51.705,"b":-50.42},{"k":"R70","v":70,"p":494,"a":-51.71,"b":-50.46},{"k":"R70","v":70,"p":506,"a":-51.71,"b":-50.67},{"k":"R70","v":70,"p":525,"a":-51.71,"b":-50.85},{"k":"R70","v":70,"p":594,"a":-51.715,"b":-51.02},{"k":"R70","v":70,"p":668,"a":-51.715,"b":-51.13},{"k":"R70","v":70,"p":754,"a":-51.715,"b":-51.1},{"k":"R70","v":70,"p":855,"a":-51.715,"b":-51.02},{"k":"R70","v":70,"p":936,"a":-51.715,"b":-51.13},{"k":"R70","v":70,"p":1000,"a":-51.715,"b":-51.43},
{"k":"L75","v":75,"p":210,"a":-52.12,"b":-52.1},{"k":"L75","v":75,"p":248,"a":-52.19,"b":-51.98},{"k":"L75","v":75,"p":292,"a":-52.34,"b":-51.9},{"k":"L75","v":75,"p":371,"a":-52.62,"b":-51.863},{"k":"L75","v":75,"p":457,"a":-52.68,"b":-51.863},{"k":"L75","v":75,"p":506,"a":-52.57,"b":-51.863},{"k":"L75","v":75,"p":594,"a":-52.47,"b":-51.863},{"k":"L75","v":75,"p":725,"a":-52.43,"b":-51.863},{"k":"L75","v":75,"p":832,"a":-52.49,"b":-51.863},{"k":"L75","v":75,"p":908,"a":-52.63,"b":-51.863},{"k":"L75","v":75,"p":948,"a":-52.62,"b":-51.863},{"k":"L75","v":75,"p":971,"a":-52.34,"b":-51.863},{"k":"L75","v":75,"p":1000,"a":-51.91,"b":-51.863},
{"k":"R75","v":75,"p":154,"a":-51.43,"b":-51.38},{"k":"R75","v":75,"p":162,"a":-51.51,"b":-51.3},{"k":"R75","v":75,"p":181,"a":-51.6,"b":-51.16},{"k":"R75","v":75,"p":210,"a":-51.64,"b":-51.08},{"k":"R75","v":75,"p":255,"a":-51.66,"b":-50.92},{"k":"R75","v":75,"p":304,"a":-51.67,"b":-50.77},{"k":"R75","v":75,"p":353,"a":-51.67,"b":-50.88},{"k":"R75","v":75,"p":382,"a":-51.68,"b":-50.89},{"k":"R75","v":75,"p":418,"a":-51.68,"b":-50.88},{"k":"R75","v":75,"p":465,"a":-51.69,"b":-50.89},{"k":"R75","v":75,"p":485,"a":-51.69,"b":-50.95},{"k":"R75","v":75,"p":525,"a":-51.7,"b":-51.04},{"k":"R75","v":75,"p":594,"a":-51.71,"b":-51.14},{"k":"R75","v":75,"p":668,"a":-51.71,"b":-51.19},{"k":"R75","v":75,"p":799,"a":-51.71,"b":-51.16},{"k":"R75","v":75,"p":882,"a":-51.71,"b":-51.1},{"k":"R75","v":75,"p":948,"a":-51.71,"b":-51.2},{"k":"R75","v":75,"p":1000,"a":-51.71,"b":-51.41},
{"k":"L80","v":80,"p":223,"a":-52.11,"b":-52.1},{"k":"L80","v":80,"p":244,"a":-52.19,"b":-52.01},{"k":"L80","v":80,"p":299,"a":-52.34,"b":-51.9},{"k":"L80","v":80,"p":358,"a":-52.49,"b":-51.868},{"k":"L80","v":80,"p":443,"a":-52.55,"b":-51.868},{"k":"L80","v":80,"p":515,"a":-52.47,"b":-51.868},{"k":"L80","v":80,"p":606,"a":-52.38,"b":-51.868},{"k":"L80","v":80,"p":725,"a":-52.38,"b":-51.868},{"k":"L80","v":80,"p":848,"a":-52.44,"b":-51.868},{"k":"L80","v":80,"p":919,"a":-52.62,"b":-51.868},{"k":"L80","v":80,"p":954,"a":-52.57,"b":-51.868},{"k":"L80","v":80,"p":977,"a":-52.28,"b":-51.868},{"k":"L80","v":80,"p":1000,"a":-51.88,"b":-51.868},
{"k":"R80","v":80,"p":162,"a":-51.43,"b":-51.38},{"k":"R80","v":80,"p":170,"a":-51.51,"b":-51.33},{"k":"R80","v":80,"p":192,"a":-51.59,"b":-51.22},{"k":"R80","v":80,"p":210,"a":-51.62,"b":-51.19},{"k":"R80","v":80,"p":255,"a":-51.65,"b":-51.07},{"k":"R80","v":80,"p":304,"a":-51.66,"b":-50.94},{"k":"R80","v":80,"p":366,"a":-51.67,"b":-51.07},{"k":"R80","v":80,"p":449,"a":-51.68,"b":-51.08},{"k":"R80","v":80,"p":499,"a":-51.685,"b":-51.1},{"k":"R80","v":80,"p":571,"a":-51.69,"b":-51.2},{"k":"R80","v":80,"p":643,"a":-51.695,"b":-51.25},{"k":"R80","v":80,"p":799,"a":-51.695,"b":-51.2},{"k":"R80","v":80,"p":864,"a":-51.695,"b":-51.14},{"k":"R80","v":80,"p":936,"a":-51.695,"b":-51.29},{"k":"R80","v":80,"p":1000,"a":-51.695,"b":-51.4},
{"k":"L85","v":85,"p":237,"a":-52.11,"b":-52.08},{"k":"L85","v":85,"p":267,"a":-52.19,"b":-52.0},{"k":"L85","v":85,"p":319,"a":-52.32,"b":-51.872},{"k":"L85","v":85,"p":382,"a":-52.41,"b":-51.872},{"k":"L85","v":85,"p":457,"a":-52.47,"b":-51.872},{"k":"L85","v":85,"p":530,"a":-52.38,"b":-51.872},{"k":"L85","v":85,"p":617,"a":-52.32,"b":-51.872},{"k":"L85","v":85,"p":725,"a":-52.32,"b":-51.872},{"k":"L85","v":85,"p":848,"a":-52.38,"b":-51.872},{"k":"L85","v":85,"p":936,"a":-52.47,"b":-51.872},{"k":"L85","v":85,"p":977,"a":-52.22,"b":-51.872},{"k":"L85","v":85,"p":1000,"a":-51.885,"b":-51.872},
{"k":"R85","v":85,"p":168,"a":-51.43,"b":-51.38},{"k":"R85","v":85,"p":179,"a":-51.51,"b":-51.33},{"k":"R85","v":85,"p":198,"a":-51.59,"b":-51.26},{"k":"R85","v":85,"p":255,"a":-51.64,"b":-51.13},{"k":"R85","v":85,"p":301,"a":-51.65,"b":-51.07},{"k":"R85","v":85,"p":366,"a":-51.66,"b":-51.16},{"k":"R85","v":85,"p":465,"a":-51.68,"b":-51.2},{"k":"R85","v":85,"p":558,"a":-51.69,"b":-51.25},{"k":"R85","v":85,"p":655,"a":-51.7,"b":-51.29},{"k":"R85","v":85,"p":799,"a":-51.7,"b":-51.25},{"k":"R85","v":85,"p":864,"a":-51.7,"b":-51.2},{"k":"R85","v":85,"p":954,"a":-51.7,"b":-51.38},{"k":"R85","v":85,"p":1000,"a":-51.7,"b":-51.43},
{"k":"L90","v":90,"p":248,"a":-52.11,"b":-52.08},{"k":"L90","v":90,"p":283,"a":-52.19,"b":-51.99},{"k":"L90","v":90,"p":329,"a":-52.28,"b":-51.876},{"k":"L90","v":90,"p":394,"a":-52.34,"b":-51.876},{"k":"L90","v":90,"p":457,"a":-52.38,"b":-51.876},{"k":"L90","v":90,"p":537,"a":-52.31,"b":-51.876},{"k":"L90","v":90,"p":655,"a":-52.25,"b":-51.876},{"k":"L90","v":90,"p":754,"a":-52.25,"b":-51.876},{"k":"L90","v":90,"p":848,"a":-52.31,"b":-51.876},{"k":"L90","v":90,"p":908,"a":-52.44,"b":-51.876},{"k":"L90","v":90,"p":948,"a":-52.44,"b":-51.876},{"k":"L90","v":90,"p":983,"a":-52.1,"b":-51.876},{"k":"L90","v":90,"p":1000,"a":-51.89,"b":-51.876},
{"k":"R90","v":90,"p":175,"a":-51.43,"b":-51.38},{"k":"R90","v":90,"p":186,"a":-51.53,"b":-51.33},{"k":"R90","v":90,"p":210,"a":-51.6,"b":-51.33},{"k":"R90","v":90,"p":255,"a":-51.62,"b":-51.23},{"k":"R90","v":90,"p":301,"a":-51.64,"b":-51.13},{"k":"R90","v":90,"p":375,"a":-51.65,"b":-51.25},{"k":"R90","v":90,"p":465,"a":-51.67,"b":-51.29},{"k":"R90","v":90,"p":558,"a":-51.69,"b":-51.26},{"k":"R90","v":90,"p":683,"a":-51.695,"b":-51.35},{"k":"R90","v":90,"p":799,"a":-51.695,"b":-51.26},{"k":"R90","v":90,"p":864,"a":-51.695,"b":-51.26},{"k":"R90","v":90,"p":936,"a":-51.695,"b":-51.41},{"k":"R90","v":90,"p":1000,"a":-51.695,"b":-51.44},
{"k":"L95","v":95,"p":259,"a":-52.1,"b":-52.07},{"k":"L95","v":95,"p":301,"a":-52.19,"b":-51.96},{"k":"L95","v":95,"p":329,"a":-52.25,"b":-51.881},{"k":"L95","v":95,"p":418,"a":-52.3,"b":-51.881},{"k":"L95","v":95,"p":470,"a":-52.32,"b":-51.881},{"k":"L95","v":95,"p":563,"a":-52.25,"b":-51.881},{"k":"L95","v":95,"p":673,"a":-52.19,"b":-51.881},{"k":"L95","v":95,"p":783,"a":-52.19,"b":-51.881},{"k":"L95","v":95,"p":882,"a":-52.28,"b":-51.881},{"k":"L95","v":95,"p":948,"a":-52.34,"b":-51.881},{"k":"L95","v":95,"p":983,"a":-52.07,"b":-51.881},{"k":"L95","v":95,"p":1000,"a":-51.9,"b":-51.881},
{"k":"R95","v":95,"p":188,"a":-51.46,"b":-51.43},{"k":"R95","v":95,"p":198,"a":-51.54,"b":-51.39},{"k":"R95","v":95,"p":210,"a":-51.59,"b":-51.39},{"k":"R95","v":95,"p":255,"a":-51.61,"b":-51.29},{"k":"R95","v":95,"p":295,"a":-51.62,"b":-51.25},{"k":"R95","v":95,"p":375,"a":-51.64,"b":-51.33},{"k":"R95","v":95,"p":465,"a":-51.66,"b":-51.35},{"k":"R95","v":95,"p":558,"a":-51.685,"b":-51.38},{"k":"R95","v":95,"p":683,"a":-51.69,"b":-51.39},{"k":"R95","v":95,"p":799,"a":-51.69,"b":-51.32},{"k":"R95","v":95,"p":864,"a":-51.69,"b":-51.33},{"k":"R95","v":95,"p":954,"a":-51.69,"b":-51.44},{"k":"R95","v":95,"p":1000,"a":-51.69,"b":-51.47},
{"k":"L100","v":100,"p":275,"a":-52.1,"b":-52.07},{"k":"L100","v":100,"p":310,"a":-52.16,"b":-51.95},{"k":"L100","v":100,"p":360,"a":-52.21,"b":-51.886},{"k":"L100","v":100,"p":418,"a":-52.25,"b":-51.886},{"k":"L100","v":100,"p":485,"a":-52.26,"b":-51.886},{"k":"L100","v":100,"p":563,"a":-52.2,"b":-51.886},{"k":"L100","v":100,"p":696,"a":-52.15,"b":-51.886},{"k":"L100","v":100,"p":806,"a":-52.16,"b":-51.886},{"k":"L100","v":100,"p":882,"a":-52.22,"b":-51.886},{"k":"L100","v":100,"p":936,"a":-52.28,"b":-51.886},{"k":"L100","v":100,"p":977,"a":-52.03,"b":-51.886},{"k":"L100","v":100,"p":1000,"a":-51.9,"b":-51.886},
{"k":"R100","v":100,"p":200,"a":-51.48,"b":-51.43},{"k":"R100","v":100,"p":210,"a":-51.55,"b":-51.42},{"k":"R100","v":100,"p":255,"a":-51.6,"b":-51.33},{"k":"R100","v":100,"p":292,"a":-51.61,"b":-51.29},{"k":"R100","v":100,"p":366,"a":-51.62,"b":-51.38},{"k":"R100","v":100,"p":465,"a":-51.65,"b":-51.39},{"k":"R100","v":100,"p":558,"a":-51.68,"b":-51.4},{"k":"R100","v":100,"p":696,"a":-51.685,"b":-51.41},{"k":"R100","v":100,"p":806,"a":-51.685,"b":-51.35},{"k":"R100","v":100,"p":882,"a":-51.685,"b":-51.36},{"k":"R100","v":100,"p":964,"a":-51.685,"b":-51.46},{"k":"R100","v":100,"p":1000,"a":-51.685,"b":-51.48},
{"k":"L105","v":105,"p":292,"a":-52.1,"b":-52.07},{"k":"L105","v":105,"p":329,"a":-52.15,"b":-51.95},{"k":"L105","v":105,"p":382,"a":-52.2,"b":-51.891},{"k":"L105","v":105,"p":443,"a":-52.21,"b":-51.891},{"k":"L105","v":105,"p":499,"a":-52.21,"b":-51.891},{"k":"L105","v":105,"p":598,"a":-52.13,"b":-51.891},{"k":"L105","v":105,"p":739,"a":-52.11,"b":-51.891},{"k":"L105","v":105,"p":832,"a":-52.12,"b":-51.891},{"k":"L105","v":105,"p":899,"a":-52.15,"b":-51.891},{"k":"L105","v":105,"p":964,"a":-52.0,"b":-51.891},{"k":"L105","v":105,"p":989,"a":-51.9,"b":-51.891},
{"k":"R105","v":105,"p":216,"a":-51.49,"b":-51.46},{"k":"R105","v":105,"p":237,"a":-51.56,"b":-51.41},{"k":"R105","v":105,"p":255,"a":-51.59,"b":-51.38},{"k":"R105","v":105,"p":295,"a":-51.6,"b":-51.35},{"k":"R105","v":105,"p":375,"a":-51.61,"b":-51.41},{"k":"R105","v":105,"p":465,"a":-51.64,"b":-51.43},{"k":"R105","v":105,"p":558,"a":-51.67,"b":-51.42},{"k":"R105","v":105,"p":696,"a":-51.68,"b":-51.43},{"k":"R105","v":105,"p":832,"a":-51.68,"b":-51.38},{"k":"R105","v":105,"p":908,"a":-51.68,"b":-51.41},{"k":"R105","v":105,"p":1000,"a":-51.68,"b":-51.5},
{"k":"L110","v":110,"p":306,"a":-52.08,"b":-52.06},{"k":"L110","v":110,"p":349,"a":-52.15,"b":-51.94},{"k":"L110","v":110,"p":394,"a":-52.19,"b":-51.896},{"k":"L110","v":110,"p":418,"a":-52.18,"b":-51.896},{"k":"L110","v":110,"p":499,"a":-52.17,"b":-51.896},{"k":"L110","v":110,"p":598,"a":-52.11,"b":-51.896},{"k":"L110","v":110,"p":739,"a":-52.07,"b":-51.9},{"k":"L110","v":110,"p":855,"a":-52.08,"b":-51.9},{"k":"L110","v":110,"p":919,"a":-52.1,"b":-51.92},{"k":"L110","v":110,"p":942,"a":-51.97,"b":-51.95},
{"k":"R110","v":110,"p":239,"a":-51.51,"b":-51.49},{"k":"R110","v":110,"p":259,"a":-51.57,"b":-51.41},{"k":"R110","v":110,"p":295,"a":-51.585,"b":-51.39},{"k":"R110","v":110,"p":375,"a":-51.6,"b":-51.45},{"k":"R110","v":110,"p":465,"a":-51.62,"b":-51.45},{"k":"R110","v":110,"p":558,"a":-51.65,"b":-51.44},{"k":"R110","v":110,"p":696,"a":-51.67,"b":-51.44},{"k":"R110","v":110,"p":832,"a":-51.68,"b":-51.39},{"k":"R110","v":110,"p":919,"a":-51.68,"b":-51.43},{"k":"R110","v":110,"p":1000,"a":-51.67,"b":-51.53},
{"k":"L115","v":115,"p":329,"a":-52.07,"b":-52.05},{"k":"L115","v":115,"p":382,"a":-52.13,"b":-51.92},{"k":"L115","v":115,"p":443,"a":-52.14,"b":-51.901},{"k":"L115","v":115,"p":515,"a":-52.13,"b":-51.901},{"k":"L115","v":115,"p":617,"a":-52.07,"b":-51.901},{"k":"L115","v":115,"p":739,"a":-52.05,"b":-51.905},{"k":"L115","v":115,"p":855,"a":-52.05,"b":-51.91},{"k":"L115","v":115,"p":908,"a":-52.0,"b":-51.95},
{"k":"R115","v":115,"p":275,"a":-51.51,"b":-51.49},{"k":"R115","v":115,"p":307,"a":-51.56,"b":-51.44},{"k":"R115","v":115,"p":375,"a":-51.58,"b":-51.48},{"k":"R115","v":115,"p":465,"a":-51.6,"b":-51.48},{"k":"R115","v":115,"p":558,"a":-51.63,"b":-51.46},{"k":"R115","v":115,"p":696,"a":-51.665,"b":-51.45},{"k":"R115","v":115,"p":832,"a":-51.67,"b":-51.4},{"k":"R115","v":115,"p":936,"a":-51.67,"b":-51.45},{"k":"R115","v":115,"p":1000,"a":-51.66,"b":-51.55},
{"k":"L120","v":120,"p":349,"a":-52.06,"b":-52.04},{"k":"L120","v":120,"p":394,"a":-52.11,"b":-51.92},{"k":"L120","v":120,"p":457,"a":-52.12,"b":-51.907},{"k":"L120","v":120,"p":530,"a":-52.11,"b":-51.907},{"k":"L120","v":120,"p":617,"a":-52.07,"b":-51.91},{"k":"L120","v":120,"p":673,"a":-52.01,"b":-51.93},{"k":"L120","v":120,"p":710,"a":-51.97,"b":-51.96},
{"k":"L120b","v":120,"p":773,"a":-52.02,"b":-51.99},{"k":"L120b","v":120,"p":832,"a":-52.07,"b":-51.93},{"k":"L120b","v":120,"p":882,"a":-52.06,"b":-51.95},{"k":"L120b","v":120,"p":913,"a":-52.01,"b":-52.0},
{"k":"R120","v":120,"p":345,"a":-51.55,"b":-51.51},{"k":"R120","v":120,"p":375,"a":-51.57,"b":-51.495},{"k":"R120","v":120,"p":465,"a":-51.59,"b":-51.495},{"k":"R120","v":120,"p":558,"a":-51.61,"b":-51.48},{"k":"R120","v":120,"p":696,"a":-51.66,"b":-51.46},{"k":"R120","v":120,"p":832,"a":-51.67,"b":-51.41},{"k":"R120","v":120,"p":948,"a":-51.665,"b":-51.48},{"k":"R120","v":120,"p":1000,"a":-51.64,"b":-51.57},
{"k":"L125","v":125,"p":377,"a":-52.05,"b":-52.03},{"k":"L125","v":125,"p":418,"a":-52.09,"b":-51.925},{"k":"L125","v":125,"p":499,"a":-52.09,"b":-51.92},{"k":"L125","v":125,"p":582,"a":-52.06,"b":-51.925},{"k":"L125","v":125,"p":643,"a":-52.0,"b":-51.97},
{"k":"R125","v":125,"p":392,"a":-51.55,"b":-51.53},{"k":"R125","v":125,"p":465,"a":-51.57,"b":-51.51},{"k":"R125","v":125,"p":558,"a":-51.59,"b":-51.49},{"k":"R125","v":125,"p":696,"a":-51.65,"b":-51.475},{"k":"R125","v":125,"p":832,"a":-51.665,"b":-51.42},{"k":"R125","v":125,"p":954,"a":-51.65,"b":-51.5},{"k":"R125","v":125,"p":983,"a":-51.61,"b":-51.6},
{"k":"L130","v":130,"p":410,"a":-52.04,"b":-52.02},{"k":"L130","v":130,"p":457,"a":-52.07,"b":-51.94},{"k":"L130","v":130,"p":530,"a":-52.07,"b":-51.94},{"k":"L130","v":130,"p":606,"a":-52.03,"b":-51.97},{"k":"L130","v":130,"p":622,"a":-52.01,"b":-52.0},
{"k":"R130","v":130,"p":438,"a":-51.55,"b":-51.54},{"k":"R130","v":130,"p":485,"a":-51.56,"b":-51.51},{"k":"R130","v":130,"p":558,"a":-51.57,"b":-51.5},{"k":"R130","v":130,"p":634,"a":-51.6,"b":-51.495},{"k":"R130","v":130,"p":725,"a":-51.64,"b":-51.485},{"k":"R130","v":130,"p":832,"a":-51.67,"b":-51.43},{"k":"R130","v":130,"p":936,"a":-51.64,"b":-51.5},{"k":"R130","v":130,"p":971,"a":-51.6,"b":-51.57},
{"k":"L135","v":135,"p":465,"a":-52.03,"b":-52.02},{"k":"L135","v":135,"p":479,"a":-52.05,"b":-52.0},{"k":"L135","v":135,"p":515,"a":-52.05,"b":-52.0},{"k":"L135","v":135,"p":548,"a":-52.03,"b":-52.02},
{"k":"R135","v":135,"p":647,"a":-51.56,"b":-51.54},{"k":"R135","v":135,"p":668,"a":-51.59,"b":-51.53},{"k":"R135","v":135,"p":730,"a":-51.62,"b":-51.5},{"k":"R135","v":135,"p":783,"a":-51.65,"b":-51.46},{"k":"R135","v":135,"p":848,"a":-51.67,"b":-51.44},{"k":"R135","v":135,"p":893,"a":-51.665,"b":-51.45},{"k":"R135","v":135,"p":925,"a":-51.62,"b":-51.51},{"k":"R135","v":135,"p":936,"a":-51.57,"b":-51.55},
{"k":"R140","v":140,"p":668,"a":-51.565,"b":-51.55},{"k":"R140","v":140,"p":730,"a":-51.6,"b":-51.51},{"k":"R140","v":140,"p":783,"a":-51.62,"b":-51.49},{"k":"R140","v":140,"p":848,"a":-51.65,"b":-51.46},{"k":"R140","v":140,"p":893,"a":-51.65,"b":-51.47},{"k":"R140","v":140,"p":913,"a":-51.61,"b":-51.53},
{"k":"R145","v":145,"p":705,"a":-51.57,"b":-51.55},{"k":"R145","v":145,"p":759,"a":-51.6,"b":-51.52},{"k":"R145","v":145,"p":806,"a":-51.62,"b":-51.49},{"k":"R145","v":145,"p":848,"a":-51.635,"b":-51.48},{"k":"R145","v":145,"p":893,"a":-51.62,"b":-51.49},{"k":"R145","v":145,"p":908,"a":-51.59,"b":-51.54},
{"k":"R150","v":150,"p":754,"a":-51.575,"b":-51.56},{"k":"R150","v":150,"p":799,"a":-51.6,"b":-51.53},{"k":"R150","v":150,"p":848,"a":-51.62,"b":-51.5},{"k":"R150","v":150,"p":893,"a":-51.61,"b":-51.51},{"k":"R150","v":150,"p":902,"a":-51.57,"b":-51.55},
{"k":"R155","v":155,"p":799,"a":-51.585,"b":-51.56},{"k":"R155","v":155,"p":832,"a":-51.61,"b":-51.52},{"k":"R155","v":155,"p":882,"a":-51.605,"b":-51.53},{"k":"R155","v":155,"p":899,"a":-51.58,"b":-51.56},
{"k":"R160","v":160,"p":822,"a":-51.59,"b":-51.57},{"k":"R160","v":160,"p":848,"a":-51.61,"b":-51.54},{"k":"R160","v":160,"p":888,"a":-51.6,"b":-51.545},{"k":"R160","v":160,"p":902,"a":-51.58,"b":-51.56},
{"k":"R165","v":165,"p":832,"a":-51.585,"b":-51.56},{"k":"R165","v":165,"p":855,"a":-51.615,"b":-51.535},{"k":"R165","v":165,"p":882,"a":-51.61,"b":-51.535},{"k":"R165","v":165,"p":899,"a":-51.585,"b":-51.56}
]},
"hconcat":[
{"width":643,"height":385,"layer":[
{"data":{"name":"bands"},"mark":{"type":"area","orient":"horizontal","interpolate":"linear","clip":true},"encoding":{"x":{"field":"a","type":"quantitative","title":"Longitude","scale":{"domain":[-55.76,-47.77],"nice":false,"zero":false},"axis":{"values":[-55,-54,-53,-52,-51,-50,-49,-48],"labelExpr":"abs(datum.value)+'W'","titlePadding":7,"labelPadding":5}},"x2":{"field":"b"},"y":{"field":"p","type":"quantitative","title":"Pressure (hPa)","scale":{"type":"log","domain":[100,1000],"reverse":true,"nice":false},"axis":{"values":[100,200,300,400,500,600,700,800,900,1000],"format":"d","titlePadding":9,"labelPadding":5}},"detail":{"field":"k"},"color":{"field":"v","type":"ordinal","legend":null,"scale":{"domain":[0,10,15,20,25,30,35,40,45,50,55,60,65,70,75,80,85,90,95,100,105,110,115,120,125,130,135,140,145,150,155,160,165],"range":["#ffffff","#e0ffff","#80ffff","#00e0e0","#00c8c8","#00a0a0","#a0ffa0","#00ff00","#00e000","#00c000","#00a000","#007800","#ffff80","#e6e600","#c8c800","#ffc800","#ffa000","#ff8000","#ff7070","#ff5050","#ff3030","#ff0000","#e00000","#c00000","#a00000","#800000","#ff80ff","#ff50ff","#ff00ff","#d000d0","#a000a0","#800080","#ffffff"]}}}},
{"data":{"name":"bands"},"transform":[{"filter":"datum.v%10==0 && indexof(datum.k,'L')==0"}],"mark":{"type":"line","color":"black","strokeWidth":0.9,"strokeDash":[1,2.2],"clip":true},"encoding":{"x":{"field":"a","type":"quantitative"},"y":{"field":"p","type":"quantitative"},"detail":{"field":"k"},"order":{"field":"p","type":"quantitative"}}},
{"data":{"name":"bands"},"transform":[{"filter":"datum.v%10==0 && indexof(datum.k,'L')==0"}],"mark":{"type":"line","color":"black","strokeWidth":0.7,"strokeDash":[1,3],"opacity":0.8,"clip":true},"encoding":{"x":{"field":"b","type":"quantitative"},"y":{"field":"p","type":"quantitative"},"detail":{"field":"k"},"order":{"field":"p","type":"quantitative"}}},
{"data":{"values":[{"t":"V Wind (kt, shaded; dotted: <0) X-section at 17.0N","lon":-55.76,"p":100}]},"mark":{"type":"text","align":"left","baseline":"alphabetic","fontSize":15.6,"dy":-22},"encoding":{"x":{"field":"lon","type":"quantitative"},"y":{"field":"p","type":"quantitative"},"text":{"field":"t"}}},
{"data":{"values":[{"t":"LEE13L","lon":-55.76,"p":100}]},"mark":{"type":"text","align":"left","baseline":"alphabetic","fontSize":16.6,"dy":-5},"encoding":{"x":{"field":"lon","type":"quantitative"},"y":{"field":"p","type":"quantitative"},"text":{"field":"t"}}},
{"data":{"values":[{"t":"Init: 2023090800Z F000 Valid: 2023090800Z","lon":-47.77,"p":100}]},"mark":{"type":"text","align":"right","baseline":"alphabetic","fontSize":16.6,"dy":-5},"encoding":{"x":{"field":"lon","type":"quantitative"},"y":{"field":"p","type":"quantitative"},"text":{"field":"t"}}},
{"data":{"values":[{"t":"Experimental HAFS Product","lon":-47.77,"p":1000}]},"mark":{"type":"text","align":"right","baseline":"alphabetic","fontSize":16.6,"dy":62},"encoding":{"x":{"field":"lon","type":"quantitative"},"y":{"field":"p","type":"quantitative"},"text":{"field":"t"}}},
{"data":{"values":[{"x0":-55.76,"x1":-47.77,"y0":100,"y1":1000}]},"mark":{"type":"rect","filled":false,"stroke":"black","strokeWidth":1,"clip":false},"encoding":{"x":{"field":"x0","type":"quantitative"},"x2":{"field":"x1"},"y":{"field":"y0","type":"quantitative"},"y2":{"field":"y1"}}}
]},
{"width":7,"height":385,"layer":[
{"data":{"name":"bar"},"mark":"rect","encoding":{"y":{"field":"a","type":"quantitative","title":null,"scale":{"domain":[0,165],"nice":false},"axis":{"orient":"right","values":[10,20,30,40,50,60,70,80,90,100,110,120,130,140,150,160],"labelPadding":6,"labelOverlap":false,"labelFontSize":13}},"y2":{"field":"b"},"color":{"field":"v","type":"ordinal","legend":null,"scale":{"domain":[0,10,15,20,25,30,35,40,45,50,55,60,65,70,75,80,85,90,95,100,105,110,115,120,125,130,135,140,145,150,155,160],"range":["#ffffff","#e0ffff","#80ffff","#00e0e0","#00c8c8","#00a0a0","#a0ffa0","#00ff00","#00e000","#00c000","#00a000","#007800","#ffff80","#e6e600","#c8c800","#ffc800","#ffa000","#ff8000","#ff7070","#ff5050","#ff3030","#ff0000","#e00000","#c00000","#a00000","#800000","#ff80ff","#ff50ff","#ff00ff","#d000d0","#a000a0","#800080"]}}}},
{"data":{"values":[{"y0":0,"y1":165}]},"mark":{"type":"rect","filled":false,"stroke":"black","strokeWidth":1},"encoding":{"y":{"field":"y0","type":"quantitative","title":null,"scale":{"domain":[0,165],"nice":false},"axis":{"orient":"right","values":[10,20,30,40,50,60,70,80,90,100,110,120,130,140,150,160],"labelPadding":6,"labelOverlap":false,"labelFontSize":13}},"y2":{"field":"y1"}}}
]}
],"resolve":{"scale":{"color":"independent"}}}
